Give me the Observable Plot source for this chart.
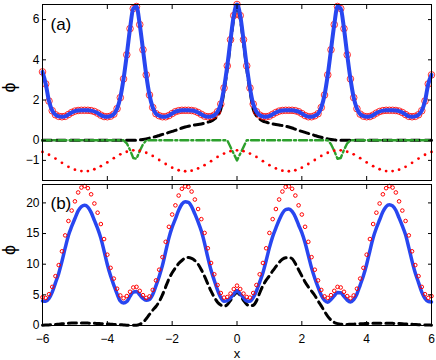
<!DOCTYPE html>
<html><head><meta charset="utf-8">
<script src="https://cdn.jsdelivr.net/npm/d3@7"></script>
<script src="https://cdn.jsdelivr.net/npm/@observablehq/plot@0.6"></script>
<style>
body{margin:0;background:#fff;}
#chart{position:relative;width:436px;height:360px;background:#fff;}
#chart svg{display:block;}
</style></head><body><div id="chart"></div>
<script>
// sample positions (x)
const xs = [
-6,-5.9,-5.8,-5.7,-5.6,-5.5,-5.4,-5.3,-5.2,-5.1,
-5,-4.9,-4.8,-4.7,-4.6,-4.5,-4.4,-4.3,-4.2,-4.1,
-4,-3.9,-3.8,-3.7,-3.6,-3.5,-3.4,-3.3,-3.2,-3.1,
-3,-2.9,-2.8,-2.7,-2.6,-2.5,-2.4,-2.3,-2.2,-2.1,
-2,-1.9,-1.8,-1.7,-1.6,-1.5,-1.4,-1.3,-1.2,-1.1,
-1,-0.9,-0.8,-0.7,-0.6,-0.5,-0.4,-0.3,-0.2,-0.1,
0,
0.1,0.2,0.3,0.4,0.5,0.6,0.7,0.8,0.9,1,
1.1,1.2,1.3,1.4,1.5,1.6,1.7,1.8,1.9,2,
2.1,2.2,2.3,2.4,2.5,2.6,2.7,2.8,2.9,3,
3.1,3.2,3.3,3.4,3.5,3.6,3.7,3.8,3.9,4,
4.1,4.2,4.3,4.4,4.5,4.6,4.7,4.8,4.9,5,
5.1,5.2,5.3,5.4,5.5,5.6,5.7,5.8,5.9,6];

// panel (a)
const phiA = [
3.4,2.8,1.95,1.47,1.27,1.19,1.17,1.19,1.28,1.38,
1.45,1.48,1.49,1.49,1.49,1.475,1.43,1.35,1.25,1.18,
1.17,1.2,1.3,1.57,2.12,3.05,4.25,5.55,6.55,6.65,
5.75,4.5,3.25,2.25,1.63,1.32,1.22,1.17,1.17,1.23,
1.33,1.42,1.47,1.49,1.49,1.49,1.48,1.45,1.38,1.29,
1.2,1.17,1.18,1.25,1.42,1.8,2.6,3.7,5.0,6.2,
6.75,
6.2,5.0,3.7,2.6,1.8,1.42,1.25,1.18,1.17,1.2,
1.29,1.38,1.45,1.48,1.49,1.49,1.49,1.47,1.42,1.33,
1.23,1.17,1.17,1.22,1.32,1.63,2.25,3.25,4.5,5.75,
6.65,6.55,5.55,4.25,3.05,2.12,1.57,1.3,1.2,1.17,
1.18,1.25,1.35,1.43,1.475,1.49,1.49,1.49,1.48,1.45,
1.38,1.28,1.19,1.17,1.19,1.27,1.47,1.95,2.8,3.25];

const blackA = [
0,0,0,0,0,0,0,0,0,0,
0,0,0,0,0,0,0,0,0,0,
0,0,0,0,0,0,0,0,0,0,
0.02,0.04,0.07,0.11,0.15,0.19,0.24,0.29,0.34,0.39,
0.44,0.49,0.55,0.61,0.66,0.7,0.73,0.76,0.78,0.81,
0.85,0.9,0.95,1.05,1.22,1.55,2.45,3.55,4.85,6.05,
6.6,
6.05,4.85,3.55,2.45,1.55,1.22,1.05,0.95,0.9,0.85,
0.81,0.78,0.76,0.73,0.7,0.66,0.61,0.55,0.49,0.44,
0.39,0.34,0.29,0.24,0.19,0.15,0.11,0.07,0.04,0.02,
0,0,0,0,0,0,0,0,0,0,
0,0,0,0,0,0,0,0,0,0,
0,0,0,0,0,0,0,0,0,0];

const greenA = [
0,0,0,0,0,0,0,0,0,0,
0,0,0,0,0,0,0,0,0,0,
0,0,0,0,0,0,-0.15,-0.48,-0.88,-0.92,
-0.53,-0.2,0,0,0,0,0,0,0,0,
0,0,0,0,0,0,0,0,0,0,
0,0,0,0,0,0,0,0,-0.34,-0.67,
-1,
-0.67,-0.34,0,0,0,0,0,0,0,0,
0,0,0,0,0,0,0,0,0,0,
0,0,0,0,0,0,0,0,-0.2,-0.53,
-0.92,-0.88,-0.48,-0.15,0,0,0,0,0,0,
0,0,0,0,0,0,0,0,0,0,
0,0,0,0,0,0,0,0,0,0];

// red dotted markers, every second sample position
const redDotA = [
-0.58,-0.72,-0.91,-1.12,-1.32,-1.46,-1.53,-1.53,-1.44,-1.29,
-1.1,-0.89,-0.7,-0.57,-0.5,-0.52,-0.62,-0.78,-0.98,-1.18,
-1.36,-1.49,-1.54,-1.51,-1.4,-1.24,-1.04,-0.83,-0.66,-0.54,
-0.5,
-0.54,-0.66,-0.83,-1.04,-1.24,-1.4,-1.51,-1.54,-1.49,-1.36,
-1.18,-0.98,-0.78,-0.62,-0.52,-0.5,-0.57,-0.7,-0.89,-1.1,
-1.29,-1.44,-1.53,-1.53,-1.46,-1.32,-1.12,-0.91,-0.72,-0.58];

// panel (b)
const phiB = [
4.0,3.95,4.4,5.45,6.95,8.5,10.45,12.65,14.7,16.15,
17.45,18.7,19.4,19.6,19.3,18.45,17.15,15.85,14.25,12.15,
9.95,8.1,6.6,5.15,4.0,3.65,3.9,4.75,5.45,5.55,
5.0,4.4,4.1,4.25,5.05,6.45,8.0,9.8,12.05,14.3,
16.05,17.4,18.8,19.8,20.2,20.1,19.4,18.2,16.9,15.4,
13.4,11.1,9.0,7.33,5.77,4.55,3.95,4.05,4.5,5.15,
5.7,
5.15,4.5,4.0,3.95,4.55,5.63,7.07,8.6,10.6,12.7,
14.5,15.9,17.2,18.3,18.9,19.0,18.6,17.7,16.4,15.15,
13.5,11.45,9.4,7.7,6.25,4.95,4.1,3.8,4.25,4.85,
5.4,5.35,4.75,4.15,3.85,4.22,5.15,6.6,8.1,10.0,
12.2,14.3,15.9,17.25,18.55,19.4,19.7,19.5,18.8,17.55,
16.25,14.8,12.7,10.5,8.55,7.0,5.45,4.4,3.9,3.85];

const redB = [
4.6,4.5,5.1,6.3,8.05,9.85,12.1,14.7,17.05,18.75,
20.25,21.7,22.5,22.75,22.4,21.4,19.9,18.4,16.55,14.1,
11.55,9.4,7.65,6.0,4.9,4.45,4.8,5.5,6.2,6.3,
5.65,4.95,4.5,4.75,5.8,7.35,9.1,11.15,13.65,16.1,
18.1,19.6,21.2,22.3,22.7,22.6,21.85,20.55,19.0,17.35,
15.1,12.6,10.2,8.35,6.6,5.3,4.55,4.65,5.2,5.95,
6.5,
5.95,5.2,4.65,4.55,5.3,6.6,8.35,10.2,12.6,15.1,
17.35,19.0,20.55,21.85,22.6,22.7,22.3,21.2,19.6,18.1,
16.1,13.65,11.15,9.1,7.35,5.8,4.75,4.5,4.95,5.65,
6.3,6.2,5.5,4.8,4.45,4.9,6.0,7.65,9.4,11.55,
14.1,16.55,18.4,19.9,21.4,22.4,22.75,22.5,21.7,20.25,
18.75,17.05,14.7,12.1,9.85,8.05,6.3,5.1,4.5,4.8];

const blackB = [
0.05,0.08,0.1,0.13,0.17,0.22,0.27,0.32,0.36,0.39,
0.4,0.41,0.41,0.4,0.39,0.37,0.35,0.33,0.3,0.27,
0.24,0.21,0.18,0.15,0.12,0.09,0.06,0.04,0.03,0.05,
0.2,0.5,1.1,1.8,2.5,3.1,3.9,5.0,6.3,7.6,
8.6,9.4,10.1,10.6,11.0,11.1,10.95,10.6,10.0,9.1,
8.0,6.8,5.6,4.6,3.8,3.35,3.15,3.4,4.1,4.9,
5.4,
4.9,4.1,3.45,3.2,3.3,4.0,5.3,6.5,7.4,8.1,
8.9,9.6,10.3,10.8,11.05,11.1,10.9,10.1,9.1,8.1,
7.1,6.3,5.6,4.9,4.0,3.2,2.3,1.5,0.9,0.5,
0.3,0.2,0.18,0.18,0.2,0.22,0.25,0.28,0.3,0.32,
0.34,0.35,0.36,0.37,0.37,0.37,0.36,0.35,0.33,0.31,
0.28,0.25,0.22,0.19,0.16,0.14,0.12,0.1,0.08,0.06];

// axes
const xTicks = [-6,-4,-2,0,2,4,6];
const yTicksA = [-1,0,2,4,6];
const yTicksB = [0,5,10,15,20];
const xDomain = [-6,6];
const yDomainA = [-2,6.75];
const yDomainB = [0,23];

const font = "'Liberation Sans', Arial, Helvetica, sans-serif";
const blue = "#2846f0", green = "#2ca02c";

const rowsA = xs.map((x,i)=>({x, phi:phiA[i], blk:blackA[i], grn:greenA[i]}));
const xDot = xs.filter((_,i)=>i%2===0);
const dotsA = xDot.map((x,i)=>({x, y:redDotA[i]}));
const rowsB = xs.map((x,i)=>({x, phi:phiB[i], red:redB[i], blk:blackB[i]}));

function frameTicks(yTicks, withXLabels) {
  const m = [
    Plot.frame({stroke:"#000", strokeWidth:1}),
    Plot.axisX(xTicks, {anchor:"bottom", tickSize:-4, tickFormat:()=>"", label:null}),
    Plot.axisX(xTicks, {anchor:"top", tickSize:-4, tickFormat:()=>"", label:null}),
    Plot.axisY(yTicks, {anchor:"left", tickSize:-4, tickFormat:()=>"", label:null}),
    Plot.axisY(yTicks, {anchor:"right", tickSize:-4, tickFormat:()=>"", label:null}),
    Plot.axisY(yTicks, {anchor:"left", tickSize:0, tickPadding:3, label:null})
  ];
  if (withXLabels) m.push(Plot.axisX(xTicks, {anchor:"bottom", tickSize:0, tickPadding:9, label:null}));
  return m;
}

const plotA = Plot.plot({
  width:436, height:182, marginTop:4, marginBottom:2, marginLeft:42, marginRight:5,
  x:{domain:xDomain}, y:{domain:yDomainA},
  style:{fontFamily:font, fontSize:"12px", background:"white", color:"#000"},
  marks:[
    Plot.lineY(rowsA, {x:"x", y:"blk", stroke:"#000", strokeWidth:3, strokeDasharray:"9,5", curve:"monotone-x"}),
    Plot.lineY(rowsA, {x:"x", y:"grn", stroke:green, strokeWidth:2.4, strokeDasharray:"8,3,2,3"}),
    Plot.dot(dotsA, {x:"x", y:"y", r:1.4, fill:"#ff0000"}),
    Plot.dot(rowsA, {x:"x", y:"phi", r:3.3, stroke:"#ff0000", strokeWidth:1, strokeOpacity:0.8}),
    Plot.lineY(rowsA, {x:"x", y:"phi", stroke:blue, strokeWidth:4, curve:"monotone-x"}),
    ...frameTicks(yTicksA, false),
    Plot.text(["(a)"], {text:d=>d, frameAnchor:"top-left", dx:8, dy:13, textAnchor:"start", lineAnchor:"top", fontSize:17}),
    Plot.text(["ϕ"], {text:d=>d, frameAnchor:"left", dx:-33, rotate:-90, fontSize:18})
  ]
});

const plotB = Plot.plot({
  width:436, height:178, marginTop:2, marginBottom:35, marginLeft:42, marginRight:5,
  x:{domain:xDomain}, y:{domain:yDomainB},
  style:{fontFamily:font, fontSize:"12px", background:"white", color:"#000"},
  marks:[
    Plot.lineY(rowsB, {x:"x", y:"blk", stroke:"#000", strokeWidth:3, strokeDasharray:"8,5", curve:"monotone-x"}),
    Plot.lineY(rowsB, {x:"x", y:"phi", stroke:blue, strokeWidth:3.5, curve:"monotone-x"}),
    Plot.dot(rowsB, {x:"x", y:"red", r:1.8, stroke:"#ff0000", strokeWidth:1}),
    ...frameTicks(yTicksB, true),
    Plot.text(["(b)"], {text:d=>d, frameAnchor:"top-left", dx:8, dy:12, textAnchor:"start", lineAnchor:"top", fontSize:17}),
    Plot.text(["ϕ"], {text:d=>d, frameAnchor:"left", dx:-33, rotate:-90, fontSize:18}),
    Plot.text(["x"], {text:d=>d, frameAnchor:"bottom", dy:32, lineAnchor:"bottom", fontSize:13})
  ]
});

const c = document.getElementById("chart");
c.appendChild(plotA);
c.appendChild(plotB);
</script>
</body></html>
